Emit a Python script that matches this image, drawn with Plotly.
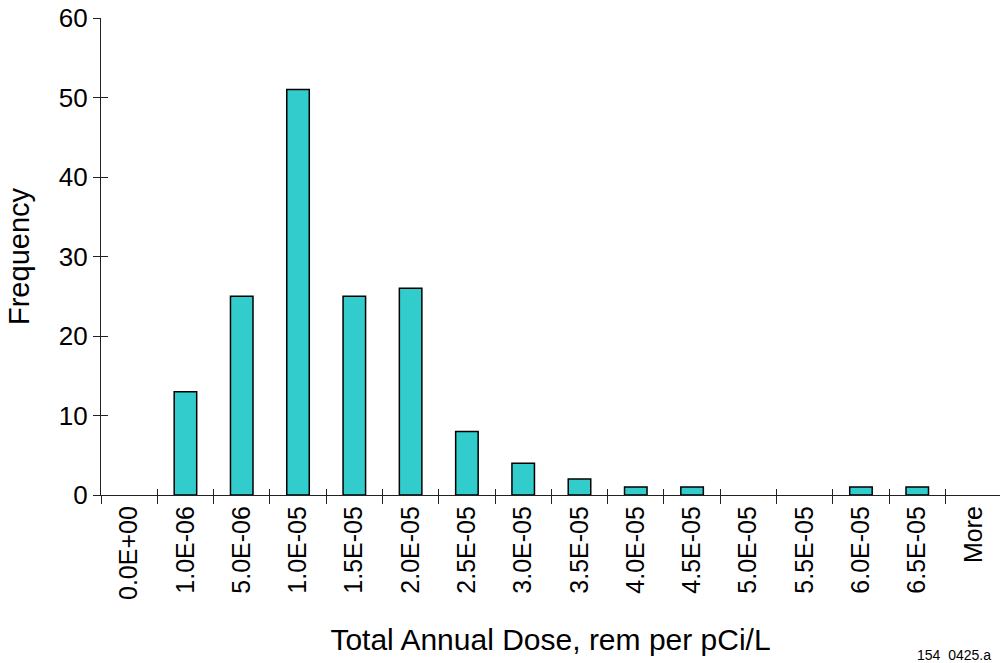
import plotly.graph_objects as go

categories = ["0.0E+00", "1.0E-06", "5.0E-06", "1.0E-05", "1.5E-05", "2.0E-05",
              "2.5E-05", "3.0E-05", "3.5E-05", "4.0E-05", "4.5E-05", "5.0E-05",
              "5.5E-05", "6.0E-05", "6.5E-05", "More"]
frequency = [0, 13, 25, 51, 25, 26, 8, 4, 2, 1, 1, 0, 0, 1, 1, 0]
y_ticks = [0, 10, 20, 30, 40, 50, 60]

FONT = "Liberation Sans, Arial, sans-serif"
n = len(categories)
xr = [-0.5, n - 0.53]
yr = [0, 60]
outline = [1.5 if v > 0 else 0 for v in frequency]

fig = go.Figure()
fig.add_trace(go.Bar(
    x=categories, y=frequency, width=0.4,
    marker=dict(color="#33CCCC", line=dict(color="#000000", width=outline)),
    showlegend=False, hoverinfo="x+y"))
# helper trace for the inside half of the crossing ticks
fig.add_trace(go.Scatter(x=[0], y=[0], xaxis="x2", yaxis="y2", mode="markers",
                         marker=dict(opacity=0), showlegend=False, hoverinfo="skip"))

fig.update_layout(
    width=1000, height=663,
    margin=dict(l=101, r=0, t=18, b=168),
    paper_bgcolor="white", plot_bgcolor="white",
    font=dict(family=FONT, size=25, color="#000000"),
    xaxis=dict(type="category", categoryorder="array", categoryarray=categories,
               range=xr, tickson="boundaries", ticks="outside", ticklen=8,
               tickcolor="#222", tickwidth=1.3, showline=True, linecolor="#222",
               linewidth=1.3, showgrid=False, zeroline=False, tickangle=-90,
               tickfont=dict(size=25), automargin=False,
               title=dict(text="Total Annual Dose, rem per pCi/L", font=dict(size=30), standoff=30)),
    yaxis=dict(range=yr, tickvals=y_ticks, ticks="outside", ticklen=7,
               tickcolor="#222", tickwidth=1.3, showline=True, linecolor="#222",
               linewidth=1.3, showgrid=False, zeroline=False, tickfont=dict(size=26),
               automargin=False,
               title=dict(text="Frequency", font=dict(size=29), standoff=20)),
    xaxis2=dict(overlaying="x", range=xr, tickvals=[i + 0.5 for i in range(n - 1)],
                ticks="inside", ticklen=6, tickcolor="#222", tickwidth=1.3,
                showticklabels=False, showline=False, showgrid=False, zeroline=False),
    yaxis2=dict(overlaying="y", range=yr, tickvals=y_ticks, ticks="inside",
                ticklen=7, tickcolor="#222", tickwidth=1.3, showticklabels=False,
                showline=False, showgrid=False, zeroline=False),
    annotations=[dict(text="154  0425.a", xref="paper", yref="paper",
                      x=0.905, y=-0.335, xanchor="left", yanchor="middle",
                      showarrow=False, font=dict(size=14, color="#000"))],
)

fig.write_html("out.html", config={"displayModeBar": False},
               post_script="document.body.style.margin='0';")
